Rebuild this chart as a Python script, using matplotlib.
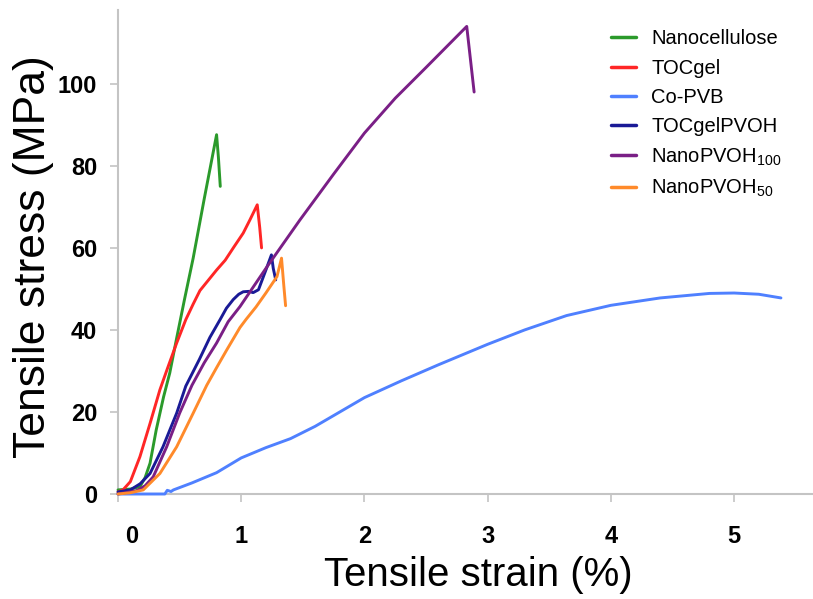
import matplotlib
matplotlib.use("Agg")
import matplotlib.pyplot as plt
import matplotlib.transforms as mtrans

plt.rcParams['font.family'] = ['Liberation Sans', 'DejaVu Sans']
plt.rcParams['mathtext.fontset'] = 'custom'
plt.rcParams['mathtext.rm'] = 'Liberation Sans'
plt.rcParams['mathtext.default'] = 'regular'

# ---- data (strain %, stress MPa) ----
nano_x = [0, 0.1, 0.178, 0.22, 0.26, 0.31, 0.37, 0.42, 0.476, 0.54, 0.61, 0.7, 0.8, 0.815, 0.83]
nano_y = [1, 1.2, 1.8, 4, 7.5, 15.6, 23.7, 29.5, 38, 47.5, 57.5, 72, 87.6, 82, 75]

toc_x = [0, 0.04, 0.1, 0.178, 0.26, 0.34, 0.4, 0.476, 0.55, 0.61, 0.665, 0.746, 0.8, 0.87, 0.94, 1.016, 1.07, 1.13, 1.15, 1.165]
toc_y = [0.5, 1, 3, 9.1, 17.2, 25.4, 30.5, 36.8, 42.5, 46.3, 49.6, 52.6, 54.6, 57, 60.2, 63.6, 66.8, 70.5, 65, 60]

copvb_x = [0, 0.2, 0.38, 0.4, 0.43, 0.45, 0.6, 0.8, 1.0, 1.2, 1.4, 1.6, 1.8, 2.0, 2.3, 2.6, 3.0, 3.3,
           3.64, 4.0, 4.4, 4.8, 5.0, 5.2, 5.38]
copvb_y = [0, 0, 0, 0.9, 0.6, 1.0, 2.7, 5.2, 8.8, 11.3, 13.5, 16.5, 20, 23.5, 27.6, 31.5, 36.5, 40,
           43.5, 46, 47.8, 48.9, 49, 48.7, 47.8]

tocpvoh_x = [0, 0.1, 0.18, 0.26, 0.365, 0.476, 0.55, 0.66, 0.746, 0.83, 0.88, 0.935, 0.98, 1.016, 1.06, 1.097, 1.14,
             1.2, 1.245, 1.26, 1.28]
tocpvoh_y = [0.5, 1, 2.5, 5, 11.5, 19.7, 26.3, 32.8, 38.2, 42.6, 45.3, 47.4, 48.7, 49.3, 49.4, 49.1, 49.8,
             54.6, 58.3, 55, 52.2]

pvoh100_x = [0, 0.15, 0.22, 0.286, 0.395, 0.5, 0.6, 0.7, 0.8, 0.894, 0.99, 1.2, 1.476, 1.75, 2.0, 2.25,
             2.5, 2.83, 2.86, 2.89]
pvoh100_y = [0, 0.8, 2, 4.2, 11.5, 19.7, 26.5, 32, 36.8, 42, 45.7, 55, 66.8, 78, 88, 96.5,
             104, 114, 106, 98]

pvoh50_x = [0, 0.1, 0.205, 0.34, 0.476, 0.61, 0.72, 0.8, 0.88, 0.99, 1.04, 1.12, 1.2, 1.29, 1.327, 1.345, 1.36]
pvoh50_y = [0, 0.3, 1, 5, 11.5, 19.7, 26.5, 30.8, 35, 40.6, 42.6, 45.6, 49, 53, 57.5, 51, 45.9]

labels = ['Nanocellulose', 'TOCgel', 'Co-PVB', 'TOCgelPVOH',
          'NanoPVOH$_{100}$', 'NanoPVOH$_{50}$']
colors = ['#2b9a2b', '#ff2626', '#4f80ff', '#1a1a96', '#7a1f86', '#ff8a2a']
series = [(nano_x, nano_y), (toc_x, toc_y), (copvb_x, copvb_y),
          (tocpvoh_x, tocpvoh_y), (pvoh100_x, pvoh100_y), (pvoh50_x, pvoh50_y)]

xticks = [0, 1, 2, 3, 4, 5]
yticks = [0, 20, 40, 60, 80, 100]

fig = plt.figure(figsize=(8.13, 5.99), dpi=100)
ax = fig.add_axes([118 / 813, 105 / 599, 695 / 813, 484 / 599])

for (x, y), c, lab in zip(series, colors, labels):
    ax.plot(x, y, color=c, lw=2.1, label=lab, solid_capstyle='round',
            solid_joinstyle='round', clip_on=False, zorder=3)

ax.set_xticks(xticks)
ax.set_yticks(yticks)
ax.set_yticklabels([str(v) for v in yticks])
ax.set_xticklabels([str(v) for v in xticks])
ax.set_xlim(0, 5.64)
ax.set_ylim(0, 118)

for s in ['top', 'right']:
    ax.spines[s].set_visible(False)
for s in ['left', 'bottom']:
    ax.spines[s].set_color('#c4c4c4')
    ax.spines[s].set_linewidth(1.5)

ax.tick_params(axis='both', colors='#c4c4c4', length=6, width=1.2, labelcolor='black')
ax.tick_params(axis='y', pad=9, labelsize=17)
ax.tick_params(axis='x', pad=16, labelsize=17)
for lab in ax.get_xticklabels() + ax.get_yticklabels():
    lab.set_fontweight('bold')

# the "0" strain label sits a little right of its tick in the reference
zero_lbl = ax.xaxis.get_major_ticks()[0].label1
zero_lbl.set_transform(zero_lbl.get_transform()
                       + mtrans.ScaledTranslation(14 / 100, 0, fig.dpi_scale_trans))

ax.set_xlabel('Tensile strain (%)', fontsize=29, va='center')
ax.xaxis.set_label_coords(0.519, -0.167)
ax.set_ylabel('Tensile stress (MPa)', fontsize=32, va='center')
ax.yaxis.set_label_coords(-0.121, 0.49)

leg = ax.legend(loc='upper left', bbox_to_anchor=(0.709, 0.96), frameon=False,
                fontsize=14.5, handlelength=1.25, handletextpad=0.75,
                labelspacing=0.51, borderpad=0, borderaxespad=0)
for line in leg.get_lines():
    line.set_linewidth(2.5)

fig.savefig('out.png', dpi=100)
